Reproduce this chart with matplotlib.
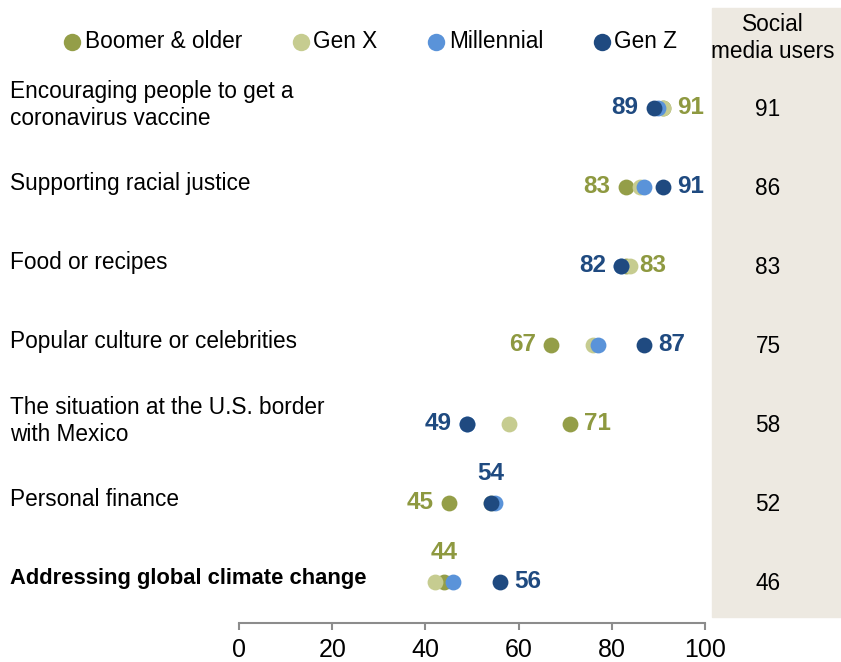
import matplotlib.pyplot as plt
import matplotlib.transforms as mtransforms
from matplotlib.patches import Rectangle

plt.rcParams['font.family'] = ['Liberation Sans', 'DejaVu Sans']

# Data
categories = ['Encouraging people to get a\ncoronavirus vaccine',
              'Supporting racial justice',
              'Food or recipes',
              'Popular culture or celebrities',
              'The situation at the U.S. border\nwith Mexico',
              'Personal finance',
              'Addressing global climate change']
boomer = [91, 83, 83, 67, 71, 45, 44]
genx = [91, 86, 84, 76, 58, 54, 42]
millennial = [90, 87, 82, 77, 49, 55, 46]
genz = [89, 91, 82, 87, 49, 54, 56]
social_users = [91, 86, 83, 75, 58, 52, 46]

series_names = ['Boomer & older', 'Gen X', 'Millennial', 'Gen Z']
series_vals = [boomer, genx, millennial, genz]
colors = ['#949e48', '#c6cc90', '#5a93d9', '#1f4a80']
label_colors = {'Boomer & older': '#8e9940', 'Gen Z': '#1f4a80'}

# which value gets a label, and on what side
labels = [
    [('Gen Z', 'left'), ('Boomer & older', 'right')],
    [('Boomer & older', 'left'), ('Gen Z', 'right')],
    [('Gen Z', 'left'), ('Boomer & older', 'right')],
    [('Boomer & older', 'left'), ('Gen Z', 'right')],
    [('Gen Z', 'left'), ('Boomer & older', 'right')],
    [('Boomer & older', 'left'), ('Gen Z', 'above')],
    [('Boomer & older', 'above'), ('Gen Z', 'right')],
]
xticks = [0, 20, 40, 60, 80, 100]

W, H = 841, 662
fig = plt.figure(figsize=(W / 100, H / 100), dpi=100)

# shaded column for social media users
fig.patches.append(Rectangle((712 / W, 1 - 617 / H), (W - 712) / W, (617 - 8) / H,
                             transform=fig.transFigure, color='#ede9e1', zorder=-1))

ax = fig.add_axes([239 / W, 1 - 623 / H, 466 / W, 553 / H])
ax.set_zorder(1)
ax.set_xlim(0, 100)
ax.set_ylim(6.52, -0.48)
ax.patch.set_alpha(0)

rows = list(range(len(categories)))
for name, vals, c in zip(series_names, series_vals, colors):
    ax.scatter(vals, rows, s=130, color=c, label=name, zorder=3, clip_on=False,
               linewidths=0)

lookup = dict(zip(series_names, series_vals))
for i, row in enumerate(labels):
    for name, side in row:
        v = lookup[name][i]
        if side == 'left':
            off, ha, va = (-11, 0), 'right', 'center'
        elif side == 'right':
            off, ha, va = (10, 0), 'left', 'center'
        else:
            off, ha, va = (0, 21), 'center', 'center'
        ax.annotate(str(v), (v, i), xytext=off, textcoords='offset points',
                    ha=ha, va=va, fontsize=17.5, fontweight='bold',
                    color=label_colors[name], zorder=4)

trans = mtransforms.blended_transform_factory(fig.transFigure, ax.transData)
last = len(categories) - 1
for i, cat in enumerate(categories):
    ax.text(10 / W, i - 0.04, cat, transform=trans, ha='left', va='center',
            fontsize=15.8 if i == last else 16.3, color='black', linespacing=1.2,
            fontweight='bold' if i == last else 'normal')
    ax.text(768 / W, i + 0.02, str(social_users[i]), transform=trans, ha='center',
            va='center', fontsize=16.3, color='black')

fig.text(773 / W, 1 - 38 / H, 'Social\nmedia users', ha='center', va='center',
         fontsize=16.3, linespacing=1.2)

for s in ['top', 'left', 'right']:
    ax.spines[s].set_visible(False)
ax.spines['bottom'].set_color('#8c8c8c')
ax.spines['bottom'].set_linewidth(1.5)
ax.set_yticks([])
ax.set_xticks(xticks)
ax.tick_params(axis='x', length=5, width=1.5, color='#8c8c8c', labelsize=18,
               pad=6, labelcolor='black')

ax.legend(loc='center left', bbox_to_anchor=(63 / W, 1 - 41 / H),
          bbox_transform=fig.transFigure, ncol=4, frameon=False,
          fontsize=16.3, handlelength=0.8, handletextpad=0.15, columnspacing=2.2,
          markerscale=1.1, borderpad=0, borderaxespad=0)

fig.savefig('out.png', dpi=100)
